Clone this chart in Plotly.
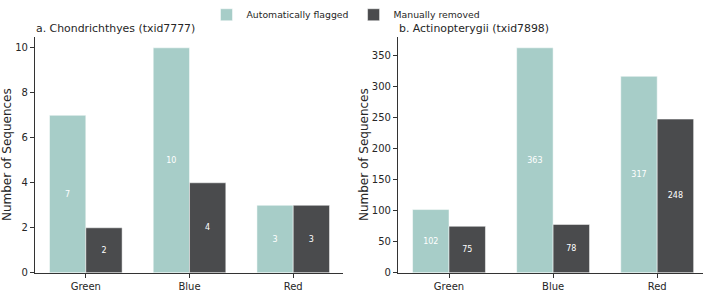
import plotly.graph_objects as go

# Data
colors_cat = ["Green", "Blue", "Red"]
a_auto = [7, 10, 3]
a_manual = [2, 4, 3]
b_auto = [102, 363, 317]
b_manual = [75, 78, 248]
series_names = ["Automatically flagged", "Manually removed"]
titles = ["a. Chondrichthyes (txid7777)", "b. Actinopterygii (txid7898)"]
a_ticks = [0, 2, 4, 6, 8, 10]
b_ticks = [0, 50, 100, 150, 200, 250, 300, 350]

TEAL = "#a7cdc8"
DARK = "#4a4b4d"
TXT = "#262626"
FONT = "DejaVu Sans"
W, H = 709, 292

def px(x):
    return x / W

def py(y):
    return 1 - y / H

fig = go.Figure()

def add_bars(xa, ya, auto, manual, show):
    for name, vals, col in [(series_names[0], auto, TEAL), (series_names[1], manual, DARK)]:
        fig.add_trace(go.Bar(
            x=colors_cat, y=vals, name=name, marker=dict(color=col, line=dict(width=0.5, color="white")),
            text=[str(v) for v in vals], textposition="inside", insidetextanchor="middle",
            textangle=0, constraintext="none",
            textfont=dict(color="white", size=8, family=FONT),
            xaxis=xa, yaxis=ya, showlegend=show, legendgroup=name,
            width=0.35,
        ))

add_bars("x", "y", a_auto, a_manual, True)
add_bars("x2", "y2", b_auto, b_manual, False)

axis_common = dict(
    showgrid=False, zeroline=False, showline=True, linecolor="#333333", linewidth=1.2,
    ticks="outside", ticklen=4, tickwidth=1, tickcolor="#333333",
    tickfont=dict(family=FONT, size=10, color=TXT),
)

fig.update_layout(
    width=W, height=H,
    margin=dict(l=0, r=0, t=0, b=0),
    plot_bgcolor="white", paper_bgcolor="white",
    barmode="group", bargap=0.3, bargroupgap=0,
    font=dict(family=FONT, color=TXT),
    xaxis=dict(domain=[px(35), px(343)], range=[-0.49, 2.48], anchor="y", **axis_common),
    yaxis=dict(domain=[py(277), py(28)], range=[0, 10.5], anchor="x", tickvals=a_ticks,
               title=dict(text="Number of Sequences", font=dict(family=FONT, size=12, color=TXT), standoff=4),
               **axis_common),
    xaxis2=dict(domain=[px(398), px(703)], range=[-0.49, 2.44], anchor="y2", **axis_common),
    yaxis2=dict(domain=[py(277), py(28)], range=[0, 381.15], anchor="x2", tickvals=b_ticks,
                title=dict(text="Number of Sequences", font=dict(family=FONT, size=12, color=TXT), standoff=0),
                **axis_common),
    legend=dict(orientation="h", x=0.488, xanchor="center", y=py(5), yanchor="middle",
                font=dict(family=FONT, size=9.3, color=TXT), bgcolor="rgba(0,0,0,0)",
                itemwidth=30, traceorder="normal"),
    annotations=[
        dict(text=titles[0], xref="paper", yref="paper", x=px(34), y=py(19), xanchor="left", yanchor="middle",
             showarrow=False, font=dict(family=FONT, size=10.9, color=TXT)),
        dict(text=titles[1], xref="paper", yref="paper", x=px(397), y=py(19), xanchor="left", yanchor="middle",
             showarrow=False, font=dict(family=FONT, size=10.9, color=TXT)),
    ],
)

fig.write_html("out.html")
